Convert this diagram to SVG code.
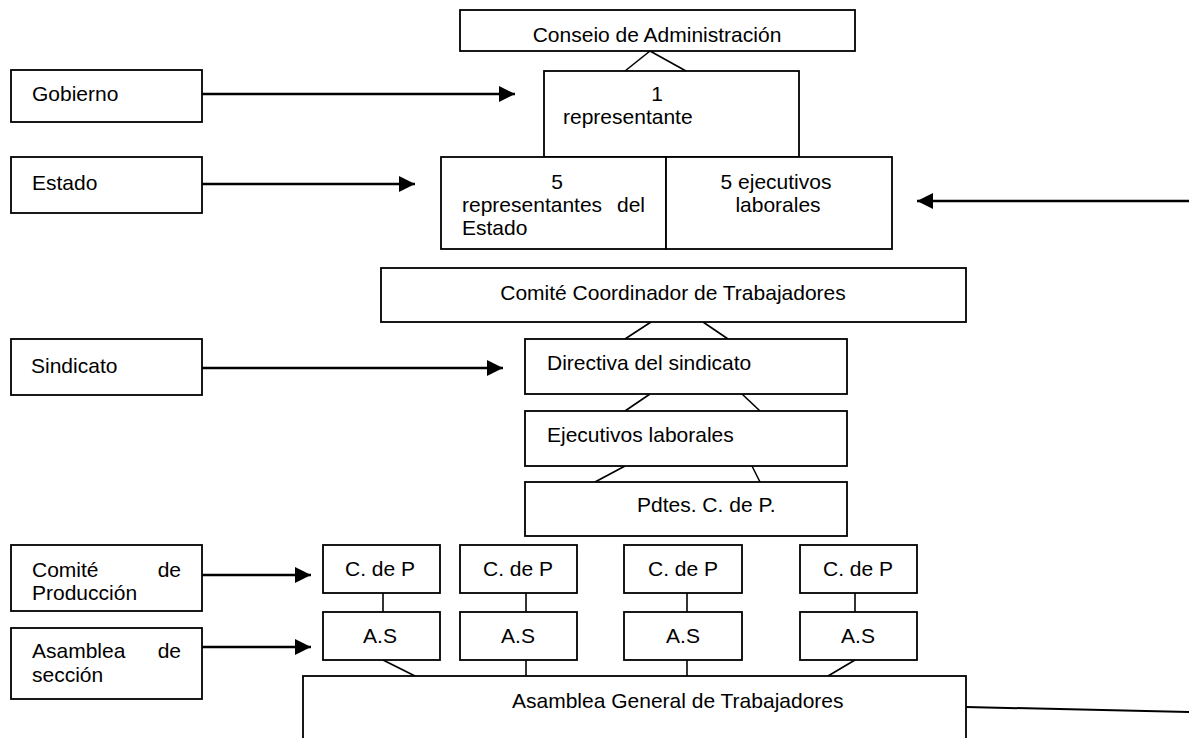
<svg xmlns="http://www.w3.org/2000/svg" width="1189" height="738" viewBox="0 0 1189 738">
<style>
.box{fill:#fff;stroke:#000;stroke-width:1.8}
.t{font-family:"Liberation Sans",Arial,sans-serif;font-size:21px;fill:#000}
.m{text-anchor:middle}
.e{text-anchor:end}
.ln{stroke:#000;stroke-width:1.6;fill:none}
.ar{stroke:#000;stroke-width:2.4;fill:none;marker-end:url(#ah)}
</style>
<defs>
<marker id="ah" markerUnits="userSpaceOnUse" markerWidth="16" markerHeight="16" refX="16" refY="8" orient="auto">
<path d="M0,0 L16,8 L0,16 z" fill="#000"/>
</marker>
<clipPath id="cc"><rect x="460" y="10" width="395" height="32"/></clipPath>
</defs>
<rect width="1189" height="738" fill="#fff"/>

<g id="connectors">
<line class="ln" x1="650" y1="51" x2="625" y2="71"/>
<line class="ln" x1="650" y1="51" x2="686" y2="71"/>
<line class="ln" x1="651" y1="322" x2="625" y2="339"/>
<line class="ln" x1="703" y1="322" x2="728" y2="339"/>
<line class="ln" x1="650" y1="394" x2="625" y2="411"/>
<line class="ln" x1="742" y1="394" x2="760" y2="411"/>
<line class="ln" x1="625" y1="466" x2="595" y2="482"/>
<line class="ln" x1="752" y1="466" x2="760" y2="482"/>
<line class="ln" x1="383" y1="593" x2="383" y2="612"/>
<line class="ln" x1="526" y1="593" x2="526" y2="612"/>
<line class="ln" x1="687" y1="593" x2="687" y2="612"/>
<line class="ln" x1="855" y1="593" x2="855" y2="612"/>
<line class="ln" x1="383" y1="660" x2="415" y2="676"/>
<line class="ln" x1="526" y1="660" x2="526" y2="676"/>
<line class="ln" x1="687" y1="660" x2="687" y2="676"/>
<line class="ln" x1="855" y1="660" x2="828" y2="676"/>
<line class="ar" x1="202" y1="94" x2="515" y2="94"/>
<line class="ar" x1="202" y1="184" x2="415" y2="184"/>
<line class="ar" x1="1189" y1="201" x2="917" y2="201"/>
<line class="ar" x1="202" y1="368" x2="503" y2="368"/>
<line class="ar" x1="202" y1="575" x2="311" y2="575"/>
<line class="ar" x1="202" y1="647" x2="311" y2="647"/>
<line class="ln" x1="966" y1="707" x2="1189" y2="712" style="stroke-width:2"/>
</g>

<g id="consejo">
<rect class="box" x="460" y="10" width="395" height="41"/>
<text class="t m" x="657" y="41.5" clip-path="url(#cc)">Consejo de Administración</text>
</g>
<g id="representante">
<rect class="box" x="544" y="71" width="255" height="86"/>
<text class="t m" x="657" y="101">1</text>
<text class="t" x="563" y="124">representante</text>
</g>
<g id="representantes-estado">
<rect class="box" x="441" y="157" width="225" height="92"/>
<text class="t m" x="557" y="189">5</text>
<text class="t" x="462" y="212">representantes</text>
<text class="t e" x="645" y="212">del</text>
<text class="t" x="462" y="235">Estado</text>
</g>
<g id="ejecutivos-laborales">
<rect class="box" x="666" y="157" width="226" height="92"/>
<text class="t m" x="776" y="189">5 ejecutivos</text>
<text class="t m" x="778" y="212">laborales</text>
</g>
<g id="gobierno">
<rect class="box" x="11" y="70" width="191" height="52"/>
<text class="t" x="32" y="101">Gobierno</text>
</g>
<g id="estado">
<rect class="box" x="11" y="157" width="191" height="56"/>
<text class="t" x="32" y="190">Estado</text>
</g>
<g id="comite-coordinador">
<rect class="box" x="381" y="268" width="585" height="54"/>
<text class="t m" x="673" y="300">Comité Coordinador de Trabajadores</text>
</g>
<g id="sindicato">
<rect class="box" x="11" y="339" width="191" height="56"/>
<text class="t" x="31" y="373">Sindicato</text>
</g>
<g id="directiva">
<rect class="box" x="525" y="339" width="322" height="55"/>
<text class="t" x="547" y="370">Directiva del sindicato</text>
</g>
<g id="ejecutivos">
<rect class="box" x="525" y="411" width="322" height="55"/>
<text class="t" x="547" y="442">Ejecutivos laborales</text>
</g>
<g id="pdtes">
<rect class="box" x="525" y="482" width="322" height="54"/>
<text class="t" x="637" y="512">Pdtes. C. de P.</text>
</g>
<g id="comite-produccion">
<rect class="box" x="11" y="545" width="191" height="66"/>
<text class="t" x="32" y="577">Comité</text>
<text class="t e" x="181" y="577">de</text>
<text class="t" x="32" y="600">Producción</text>
</g>
<g id="asamblea-seccion">
<rect class="box" x="11" y="628" width="191" height="71"/>
<text class="t" x="32" y="658">Asamblea</text>
<text class="t e" x="181" y="658">de</text>
<text class="t" x="32" y="682">sección</text>
</g>
<g id="cdp1"><rect class="box" x="323" y="545" width="117" height="48"/><text class="t m" x="380" y="576">C. de P</text></g>
<g id="cdp2"><rect class="box" x="460" y="545" width="117" height="48"/><text class="t m" x="518" y="576">C. de P</text></g>
<g id="cdp3"><rect class="box" x="624" y="545" width="118" height="48"/><text class="t m" x="683" y="576">C. de P</text></g>
<g id="cdp4"><rect class="box" x="800" y="545" width="117" height="48"/><text class="t m" x="858" y="576">C. de P</text></g>
<g id="as1"><rect class="box" x="323" y="612" width="117" height="48"/><text class="t m" x="380" y="643">A.S</text></g>
<g id="as2"><rect class="box" x="460" y="612" width="117" height="48"/><text class="t m" x="518" y="643">A.S</text></g>
<g id="as3"><rect class="box" x="624" y="612" width="118" height="48"/><text class="t m" x="683" y="643">A.S</text></g>
<g id="as4"><rect class="box" x="800" y="612" width="117" height="48"/><text class="t m" x="858" y="643">A.S</text></g>
<g id="asamblea-general">
<rect class="box" x="303" y="676" width="663" height="90"/>
<text class="t" x="512" y="708">Asamblea General de Trabajadores</text>
</g>
</svg>
